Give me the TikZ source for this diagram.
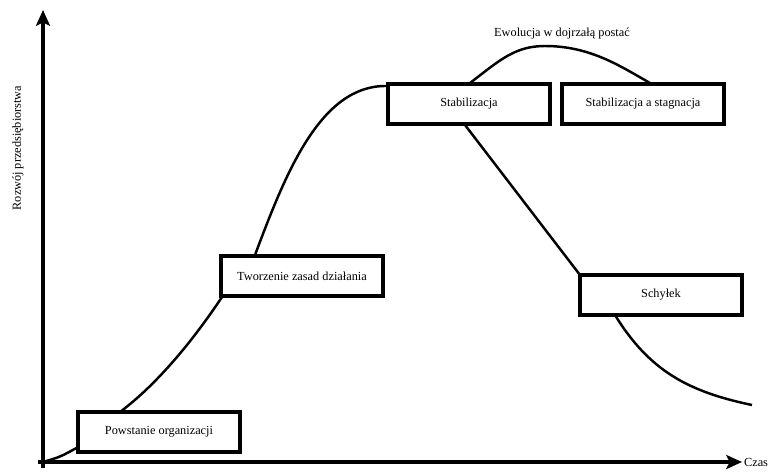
\documentclass[tikz,border=0pt]{standalone}
\usepackage{fontspec}
\setmainfont{Liberation Serif}
\usepackage{tikz}
\usetikzlibrary{arrows.meta,calc}
\tikzstyle{phase} = [rectangle, minimum width=3.24cm, minimum height=0.8cm, text centered, draw=black, line width=1.8pt, fill=white, font=\scriptsize]
\tikzstyle{arrow} = [line width=1.9pt,->,>={Stealth[length=9pt,width=8pt,inset=2pt]}]
\tikzstyle{curve} = [line width=1.4pt]

\begin{document}
\begin{tikzpicture}[x=0.02cm, y=-0.02cm]
      \useasboundingbox (0,0) rectangle (768,474);
      % axes
      \coordinate (O) at (43,462);
      \coordinate (ytop) at (43,10);
      \coordinate (xend) at (742,462);
      \draw [arrow](43,468)--(ytop);
      \draw [arrow](38,462)--(xend);
      \node (ylab)[rotate=90, font=\scriptsize] at (18,148) {Rozwój przedsiębiorstwa};
      \node (xlab)[right, font=\scriptsize, inner sep=1pt] at (xend) {Czas};
      % phases
      \node (pow)[phase] at (159,432) {Powstanie organizacji};
      \node (tw)[phase] at (302,276) {Tworzenie zasad działania};
      \node (stab)[phase] at (469,104) {Stabilizacja};
      \node (stag)[phase] at (643,104) {Stabilizacja a stagnacja};
      \node (sch)[phase] at (661,295) {Schyłek};
      \node (top)[font=\scriptsize] at (562,34) {Ewolucja w dojrzałą postać};
      % curve between the boxes
      \coordinate (a1) at (pow.west|-0,448);
      \coordinate (b1) at (120,412);
      \coordinate (b2) at (222,297);
      \coordinate (c1) at (255,255);
      \coordinate (c2) at (stab.west|-0,86);
      \coordinate (d1) at (470,83);
      \coordinate (peak) at (545,46);
      \coordinate (d2) at (650,83);
      \coordinate (e1) at (465,125);
      \coordinate (e2) at (580,275);
      \coordinate (f1) at (615,315);
      \coordinate (f2) at (752,405);
      \draw [curve](O) .. controls (60,457) .. (a1);
      \draw [curve](b1) .. controls (160,382) and (196,336) .. (b2);
      \draw [curve](c1) .. controls (285,175) and (320,85) .. (c2);
      \draw [curve](d1) .. controls (500,60) and (515,46) .. (peak) .. controls (590,46) and (620,66) .. (d2);
      \draw [curve](e1) -- (e2);
      \draw [curve](f1) .. controls (650,372) and (690,392) .. (f2);
    \end{tikzpicture}
\end{document}
